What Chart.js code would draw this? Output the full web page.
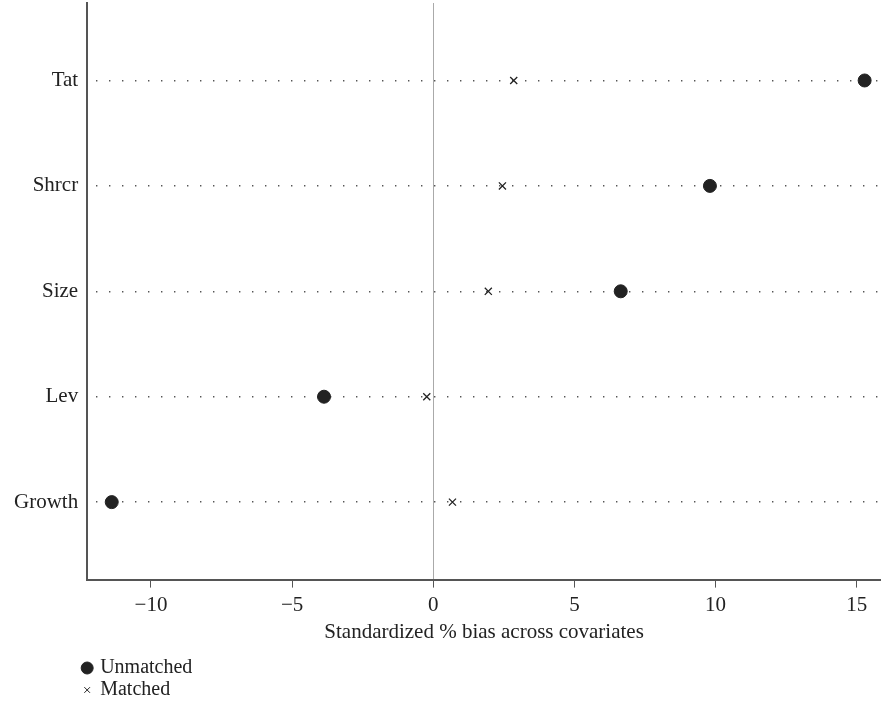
<!DOCTYPE html>
<html>
<head>
<meta charset="utf-8">
<script src="https://cdn.jsdelivr.net/npm/chart.js@4/dist/chart.umd.min.js"></script>
<style>
  html, body { margin: 0; padding: 0; background: #fff; overflow: hidden; }
  #wrap { width: 881px; height: 710px; }
</style>
</head>
<body>
<div id="wrap"><canvas id="chart"></canvas></div>
<script>
// covariates, top to bottom
const categories = ["Tat", "Shrcr", "Size", "Lev", "Growth"];
const unmatched = [15.28, 9.80, 6.64, -3.87, -11.39];
const matched = [2.85, 2.45, 1.95, -0.23, 0.68];
const xTicks = [-10, -5, 0, 5, 10, 15];

const FONT = '"Liberation Serif", "DejaVu Serif", serif';
const INK = "#222";

// y position of each category: Tat on top
const yPos = categories.map((c, i) => categories.length - i);
const toPoints = vals => vals.map((v, i) => ({ x: v, y: yPos[i] }));

// no extra room for edge labels, the axes run to the canvas edges
const noEdgePadding = axis => {
  axis.paddingTop = 0;
  axis.paddingBottom = 0;
  axis.paddingLeft = 0;
  axis.paddingRight = 0;
};

// legend stacked under the axis title
const stackedLegend = {
  id: "stackedLegend",
  afterDraw(chart) {
    const ctx = chart.ctx;
    const x0 = chart.scales.y.right;
    ctx.save();
    ctx.font = "20px " + FONT;
    ctx.fillStyle = INK;
    ctx.textBaseline = "middle";
    chart.data.datasets.forEach((ds, i) => {
      const y = 668 + i * 22;
      Chart.helpers.drawPoint(ctx, {
        pointStyle: ds.pointStyle,
        radius: ds.pointStyle === "circle" ? 6 : 4,
        borderWidth: ds.borderWidth
      }, x0, y);
      ctx.strokeStyle = INK;
      ctx.fillStyle = INK;
      ctx.fillText(ds.label, x0 + 13, y);
    });
    ctx.restore();
  }
};

new Chart(document.getElementById("chart"), {
  type: "scatter",
  data: {
    datasets: [
      {
        label: "Unmatched",
        data: toPoints(unmatched),
        pointStyle: "circle",
        pointRadius: 6.5,
        backgroundColor: INK,
        borderColor: INK,
        borderWidth: 1,
        clip: false
      },
      {
        label: "Matched",
        data: toPoints(matched),
        pointStyle: "crossRot",
        pointRadius: 5,
        backgroundColor: INK,
        borderColor: INK,
        borderWidth: 1.3,
        clip: false
      }
    ]
  },
  options: {
    responsive: true,
    maintainAspectRatio: false,
    animation: false,
    layout: { autoPadding: false, padding: { left: 5, right: 0, top: 3, bottom: 65 } },
    plugins: {
      legend: { display: false },
      tooltip: { enabled: false }
    },
    scales: {
      x: {
        type: "linear",
        min: -12.26,
        max: 15.86,
        afterBuildTicks: axis => { axis.ticks = xTicks.map(v => ({ value: v })); },
        afterFit: noEdgePadding,
        ticks: {
          color: INK,
          font: { family: FONT, size: 21 },
          padding: 5,
          callback: v => (v < 0 ? "\u2212" + Math.abs(v) : String(v))
        },
        grid: {
          color: c => (c.tick && c.tick.value === 0 ? "#aaa" : "rgba(0,0,0,0)"),
          lineWidth: 1,
          tickColor: "#555",
          tickLength: 8,
          drawOnChartArea: true
        },
        border: { display: true, color: "#555", width: 2 },
        title: {
          display: true,
          text: "Standardized % bias across covariates",
          color: INK,
          font: { family: FONT, size: 21 },
          padding: { top: -3, bottom: 0 }
        }
      },
      y: {
        type: "linear",
        min: 0.265,
        max: 5.735,
        afterBuildTicks: axis => { axis.ticks = yPos.map(v => ({ value: v })); },
        afterFit: noEdgePadding,
        ticks: {
          color: INK,
          font: { family: FONT, size: 21 },
          padding: 9,
          callback: v => categories[yPos.indexOf(v)]
        },
        grid: {
          color: "#555",
          lineWidth: 1.4,
          drawTicks: false
        },
        border: { display: true, color: "#555", width: 2, dash: [1.4, 11.6], dashOffset: -8 }
      }
    }
  },
  plugins: [stackedLegend]
});
</script>
</body>
</html>
